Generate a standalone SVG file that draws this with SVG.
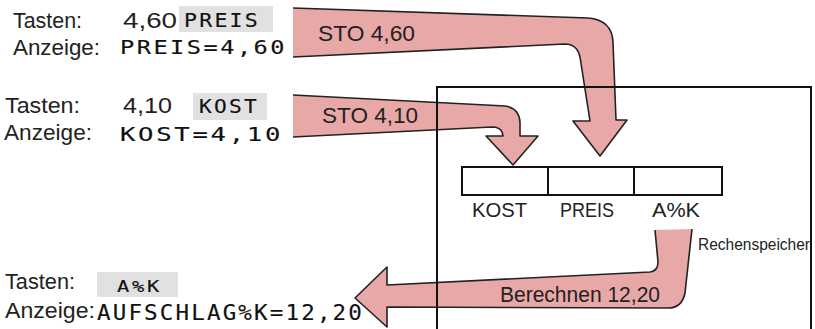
<svg xmlns="http://www.w3.org/2000/svg" width="815" height="329" viewBox="0 0 815 329">
<style>
.sans{font-family:"Liberation Sans","DejaVu Sans",sans-serif;fill:#222;}
.lcd{font-family:"DejaVu Sans Mono","Liberation Mono",monospace;fill:#111;stroke:#111;stroke-width:0.15;letter-spacing:2px;}
.key{fill:#e1e1e1;}
.arrowfill{fill:#e9a8a8;stroke:none;}
.arrowline{fill:none;stroke:#222;stroke-width:1.6;stroke-linejoin:round;}
.frame{fill:none;stroke:#111;stroke-width:2;}
</style>
<rect width="815" height="329" fill="#fff"/>

<g id="connectors">
  <g id="arrow-sto-460">
    <path class="arrowfill" d="M293,8 L588,18 Q612,20 613,42 L616,120 L627,120 L600,156 L573,121 L590,121 L580,57 Q577,44 565,44 L293,57 Z"/>
    <path class="arrowline" d="M293,8 L588,18 Q612,20 613,42 L616,120 L627,120 L600,156 L573,121 L590,121 L580,57 Q577,44 565,44 L293,57"/>
    <text class="sans" x="318" y="41" font-size="22" textLength="97" lengthAdjust="spacingAndGlyphs">STO 4,60</text>
  </g>
  <g id="arrow-sto-410">
    <path class="arrowfill" d="M293,95 L505,106 Q519,108 520,122 L520,136 L538,136 L513,165 L486,136 L503,136 L502,132 Q500,127 492,127 L293,137 Z"/>
    <path class="arrowline" d="M293,95 L505,106 Q519,108 520,122 L520,136 L538,136 L513,165 L486,136 L503,136 L502,132 Q500,127 492,127 L293,137"/>
    <text class="sans" x="322" y="123" font-size="22" textLength="96" lengthAdjust="spacingAndGlyphs">STO 4,10</text>
  </g>
  <g id="arrow-berechnen">
    <path class="arrowfill" d="M692,229 L685,293 Q682,308 668,308 L387,307 L387,327 L355,298 L387,267 L387,285 L650,272 Q658,271 658,262 L655,230 Z"/>
    <path class="arrowline" d="M692,229 L685,293 Q682,308 668,308 L387,307 L387,327 L355,298 L387,267 L387,285 L650,272 Q658,271 658,262 L655,230"/>
    <text class="sans" x="500" y="302" font-size="22" textLength="160" lengthAdjust="spacingAndGlyphs">Berechnen 12,20</text>
  </g>
</g>

<g id="memory">
  <path class="frame" d="M437,330 V87 H811 V330"/>
  <rect class="frame" x="462" y="167" width="260" height="28"/>
  <line class="frame" x1="548" y1="167" x2="548" y2="195"/>
  <line class="frame" x1="634" y1="167" x2="634" y2="195"/>
  <text class="sans" x="472" y="217" font-size="21" textLength="55" lengthAdjust="spacingAndGlyphs">KOST</text>
  <text class="sans" x="560" y="217" font-size="21" textLength="54" lengthAdjust="spacingAndGlyphs">PREIS</text>
  <text class="sans" x="652" y="217" font-size="21" textLength="48" lengthAdjust="spacingAndGlyphs">A%K</text>
  <text class="sans" x="698" y="250" font-size="16" textLength="112" lengthAdjust="spacingAndGlyphs">Rechenspeicher</text>
</g>

<g id="row-preis">
  <text class="sans" x="13" y="28" font-size="22" textLength="69" lengthAdjust="spacingAndGlyphs">Tasten:</text>
  <text class="sans" x="123" y="28" font-size="22" textLength="54" lengthAdjust="spacingAndGlyphs">4,60</text>
  <rect class="key" x="179" y="6" width="94" height="26"/>
  <text class="lcd" x="184" y="27" font-size="19" textLength="76" lengthAdjust="spacingAndGlyphs">PREIS</text>
  <text class="sans" x="13" y="55" font-size="22" textLength="87" lengthAdjust="spacingAndGlyphs">Anzeige:</text>
  <text class="lcd" x="120" y="54" font-size="19" textLength="167" lengthAdjust="spacingAndGlyphs">PREIS=4,60</text>
</g>

<g id="row-kost">
  <text class="sans" x="5" y="113" font-size="22" textLength="75" lengthAdjust="spacingAndGlyphs">Tasten:</text>
  <text class="sans" x="123" y="113" font-size="22" textLength="49" lengthAdjust="spacingAndGlyphs">4,10</text>
  <rect class="key" x="193" y="93" width="74" height="27"/>
  <text class="lcd" x="199" y="113" font-size="19" textLength="60" lengthAdjust="spacingAndGlyphs">KOST</text>
  <text class="sans" x="4" y="140" font-size="22" textLength="88" lengthAdjust="spacingAndGlyphs">Anzeige:</text>
  <text class="lcd" x="120" y="141" font-size="19" textLength="163" lengthAdjust="spacingAndGlyphs">KOST=4,10</text>
</g>

<g id="row-aufschlag">
  <text class="sans" x="5" y="289" font-size="22" textLength="70" lengthAdjust="spacingAndGlyphs">Tasten:</text>
  <rect class="key" x="97" y="272" width="81" height="25"/>
  <text class="lcd" x="117" y="292" font-size="15" textLength="45" lengthAdjust="spacingAndGlyphs">A%K</text>
  <text class="sans" x="5" y="318" font-size="22" textLength="90" lengthAdjust="spacingAndGlyphs">Anzeige:</text>
  <text class="lcd" x="97" y="320" font-size="21" textLength="267" lengthAdjust="spacingAndGlyphs">AUFSCHLAG%K=12,20</text>
</g>
</svg>
